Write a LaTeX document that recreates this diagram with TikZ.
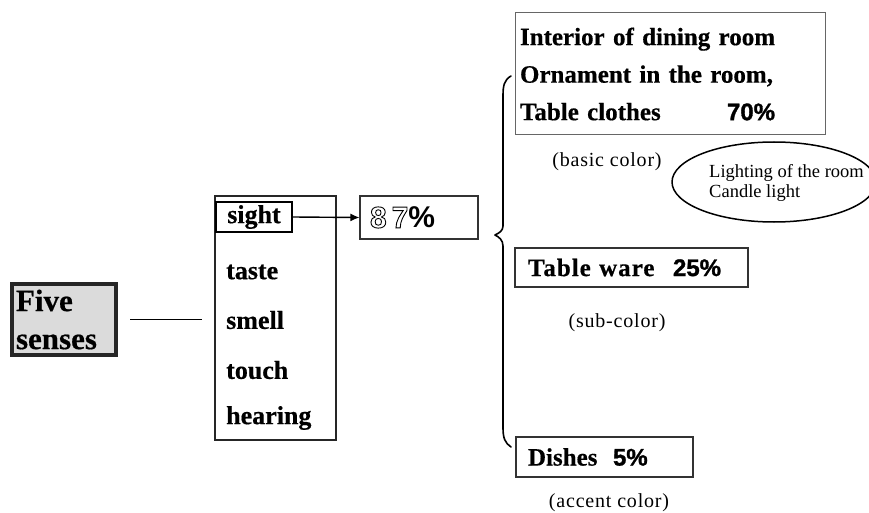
\documentclass[tikz,border=0pt]{standalone}
\usepackage{fontspec}
\setmainfont{Liberation Serif}[BoldFeatures={FakeBold=0.5}]
\newfontfamily\pctfont{Liberation Sans}
\newfontfamily\heavysans[BoldFeatures={FakeBold=1.2}]{Liberation Sans}
\newfontfamily\wideserif[LetterSpace=4]{Liberation Serif}
\newfontfamily\widebold[LetterSpace=4,BoldFeatures={FakeBold=0.5}]{Liberation Serif}
\usetikzlibrary{shapes.geometric,arrows.meta}

% outlined digits: switch the text rendering mode to stroke only
\newcommand\hollowtxt[1]{%
  \special{pdf:literal direct 1 Tr 0.9 w}#1\special{pdf:literal direct 0 Tr}}
% heavy sans for the percentages
\newcommand\sharefont{\heavysans\bfseries\fontsize{24}{26}\selectfont}

\tikzset{
  boxed/.style={draw=black!80, line width=1.1pt, fill=white, inner ysep=0pt},
  sense/.style={font=\bfseries\fontsize{26}{28}\selectfont, anchor=west, inner sep=0pt},
  label/.style={font=\wideserif\fontsize{20}{24}\selectfont, inner sep=0pt},
}

\begin{document}
\begin{tikzpicture}[x=1pt, y=-1pt]
\useasboundingbox (0,0) rectangle (869,513);

% share taken by sight (set first, before any emboldened text)
\node[boxed, minimum width=114pt, minimum height=43pt, text width=98pt, align=left,
      inner xsep=10pt, font=\pctfont\bfseries\fontsize{30}{32}\selectfont] (p87) at (419,217.5)
      {\hollowtxt{8\,7}\%};

% left: the five senses
\node[draw=black!85, line width=4pt, fill=black!14, minimum width=104pt,
      minimum height=71pt, text width=96pt, align=left, inner xsep=4pt,
      font=\bfseries\fontsize{31}{38}\selectfont] (five) at (64,319.5) {Five\\senses};

\node[draw=black!85, line width=1.2pt, minimum width=121pt, minimum height=244pt] (col) at (275.5,318) {};
\node[draw=black, line width=1.6pt, minimum width=76pt, minimum height=30pt, inner sep=0pt,
      font=\bfseries\fontsize{26}{28}\selectfont] (sight) at (254,217) {sight};
\node[sense] (taste) at (226,272) {taste};
\node[sense] (smell) at (226,320) {smell};
\node[sense] (touch) at (226,370) {touch};
\node[sense] (hearing) at (226,418) {hearing};

\draw[line width=1.6pt] ([xshift=12pt]five.east) -- ([xshift=-12pt]five.east -| col.west);
\draw[line width=1.4pt, -{Latex[length=9pt,width=8pt]}] (sight.east) -- (p87.west);

% brace grouping the three parts
\draw[line width=1.6pt, line cap=round, line join=round]
  (511,76) .. controls (504,80) and (503,86) .. (503,96)
  -- (503,226) .. controls (503,231) and (499,233) .. (495,235)
  .. controls (499,237) and (503,240) .. (503,246)
  -- (503,428) .. controls (503,438) and (505,443) .. (511,447);

% basic colour
\node[boxed, draw=black!60, line width=1pt, minimum width=310pt, minimum height=122pt,
      text width=300pt, align=left, inner xsep=5pt,
      font=\bfseries\fontsize{25}{37.5}\selectfont] (basic) at (670,74)
  {Interior of dining room\\
   Ornament in the room,\\
   \makebox[207pt][l]{Table clothes}{\sharefont 70\%}};
\node[label] (basiclbl) at (607,162) {(basic color)};

\node[draw=black, line width=1.5pt, ellipse, minimum width=204pt, minimum height=80pt] (light) at (774,182) {};
\node[anchor=west, inner sep=0pt, align=left, font=\fontsize{18.5}{20}\selectfont] (lighttxt) at (709,182.5)
  {Lighting of the room\\Candle light};

% sub colour
\node[boxed, minimum width=233pt, minimum height=39pt, text width=207pt, align=left,
      inner xsep=13pt, font=\widebold\bfseries\fontsize{25}{27}\selectfont] (ware) at (631.5,267.5)
  {\makebox[145pt][l]{Table ware}{\sharefont 25\%}};
\node[label] (sublbl) at (617,323) {(sub-color)};

% accent colour
\node[boxed, line width=1.4pt, minimum width=177pt, minimum height=40pt, text width=153pt, align=left,
      inner xsep=12pt, font=\bfseries\fontsize{25}{27}\selectfont] (dishes) at (604.5,457)
  {\makebox[85pt][l]{Dishes}{\sharefont 5\%}};
\node[label] (accentlbl) at (609,503) {(accent color)};
\end{tikzpicture}
\end{document}
